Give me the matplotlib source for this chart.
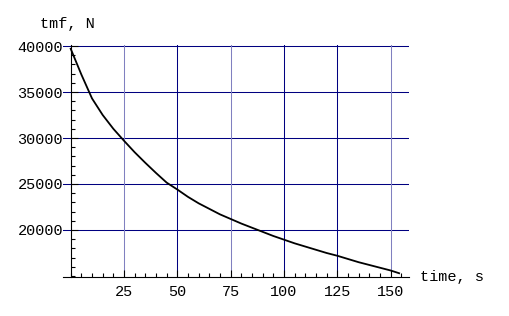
import numpy as np
import matplotlib.pyplot as plt
from matplotlib.ticker import MultipleLocator

# tmf (N)
time_s = [0, 5, 10, 15, 20, 25, 30, 35, 40, 45, 50, 55, 60, 65, 70, 75, 80, 85,
          90, 95, 100, 105, 110, 115, 120, 125, 130, 135, 140, 145, 150, 154]
tmf_n = [39700, 36900, 34300, 32500, 31000, 29700, 28450, 27300, 26200, 25150,
         24400, 23600, 22900, 22300, 21700, 21200, 20700, 20250, 19800, 19350,
         18950, 18550, 18200, 17850, 17500, 17200, 16850, 16500, 16200, 15900,
         15600, 15300]

x_ticks = [25, 50, 75, 100, 125, 150]
x_grid_dark = [50, 100, 125]
y_ticks = [20000, 25000, 30000, 35000, 40000]

DARK = "#000080"
LIGHT = "#8080c0"
FONT = "Liberation Mono"

fig = plt.figure(figsize=(5.1, 3.16), dpi=100)
ax = fig.add_axes([62.7 / 510, 39 / 316, 346 / 510, 232 / 316])

ax.set_xlim(-3.75, 158.5)
ax.set_ylim(14890, 40110)

# grid lines, two shades like the original
for y in y_ticks:
    ax.axhline(y, color=DARK, lw=0.75, zorder=1)
for x in x_ticks:
    c = DARK if x in x_grid_dark else LIGHT
    ax.axvline(x, color=c, lw=0.75, zorder=1)

ax.plot(time_s, tmf_n, color="black", lw=1.3, zorder=3)

for s in ["top", "right"]:
    ax.spines[s].set_visible(False)
ax.spines["left"].set_position(("data", 0))
ax.spines["left"].set_linewidth(0.8)
ax.spines["bottom"].set_linewidth(0.8)

ax.set_xticks(x_ticks)
ax.set_yticks(y_ticks)
ax.xaxis.set_minor_locator(MultipleLocator(5))
ax.yaxis.set_minor_locator(MultipleLocator(1000))
ax.tick_params(which="both", direction="in", width=0.8, colors="black")
ax.tick_params(which="major", length=5)
ax.tick_params(which="minor", length=3)
ax.tick_params(axis="x", which="major", pad=6)
ax.tick_params(axis="y", which="major", pad=5.5)
for lab in ax.get_xticklabels() + ax.get_yticklabels():
    lab.set_fontfamily(FONT)
    lab.set_fontsize(11)

fig.text(40 / 510, 1 - 24 / 316, "tmf, N", family=FONT, fontsize=11,
         ha="left", va="center")
fig.text(420 / 510, 1 - 277 / 316, "time, s", family=FONT, fontsize=11,
         ha="left", va="center")

fig.savefig("out.png", dpi=100)
